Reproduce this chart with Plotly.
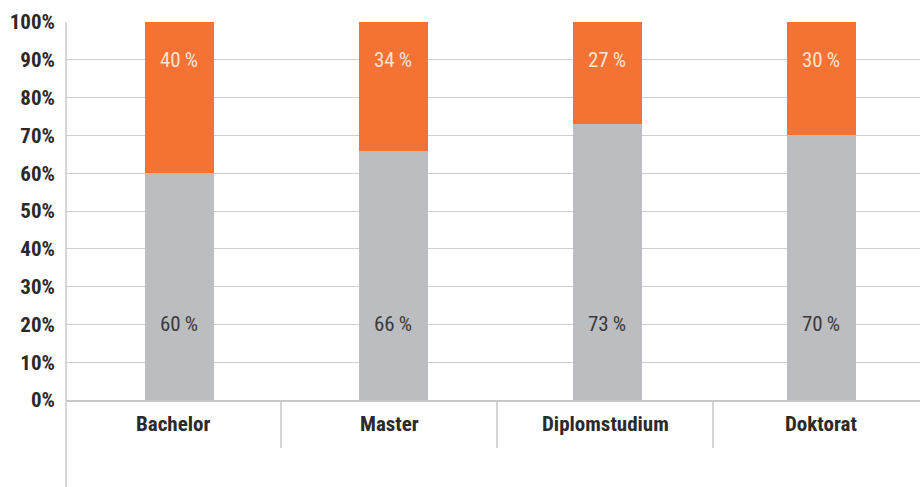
import plotly.graph_objects as go

categories = ["Bachelor", "Master", "Diplomstudium", "Doktorat"]
gray_vals = [60, 66, 73, 70]
orange_vals = [40, 34, 27, 30]
ytick_vals = [0, 10, 20, 30, 40, 50, 60, 70, 80, 90, 100]
ytick_text = [f"{v}%" for v in ytick_vals]

GRAY = "#BCBDC0"
ORANGE = "#F37234"
FONT = "Liberation Sans Narrow, Roboto Condensed, Arial Narrow, Liberation Sans, sans-serif"

PLOT_L, PLOT_W, PLOT_H = 66, 854, 378
# category band boundaries (pixels) below the axis
bounds_px = [65, 281, 497, 713, 929]

fig = go.Figure()
fig.add_bar(x=categories, y=gray_vals, marker_color=GRAY, marker_line_width=0, width=0.322, hoverinfo="skip")
fig.add_bar(x=categories, y=orange_vals, marker_color=ORANGE, marker_line_width=0, width=0.322, hoverinfo="skip")

annotations = []
for c, g, o in zip(categories, gray_vals, orange_vals):
    annotations.append(dict(x=c, y=20, text=f"{g}\u2009%", showarrow=False,
                            font=dict(family=FONT, size=21, color="#3a3a3a")))
    annotations.append(dict(x=c, y=90, text=f"{o}\u2009%", showarrow=False,
                            font=dict(family=FONT, size=21, color="#FCE3D4")))

# category labels centred in their bands
for i, c in enumerate(categories):
    cx = ((bounds_px[i] + bounds_px[i + 1]) / 2 - PLOT_L) / PLOT_W
    annotations.append(dict(xref="paper", yref="paper", x=cx, y=-24 / PLOT_H, text=f"<b>{c}</b>",
                            showarrow=False, xanchor="center", yanchor="middle",
                            font=dict(family=FONT, size=21, color="#2a2a2a")))

shapes = []
shapes.append(dict(type="line", xref="paper", yref="paper", x0=0, x1=0, y0=1, y1=-87 / PLOT_H,
                   line=dict(color="#C8C8C8", width=1.5)))
for px in bounds_px[1:-1]:
    xp = (px - PLOT_L) / PLOT_W
    shapes.append(dict(type="line", xref="paper", yref="paper", x0=xp, x1=xp, y0=0, y1=-48 / PLOT_H,
                       line=dict(color="#C8C8C8", width=1.5)))

fig.update_layout(
    barmode="stack",
    width=920, height=487,
    margin=dict(l=66, r=0, t=22, b=87),
    plot_bgcolor="white", paper_bgcolor="white",
    showlegend=False,
    annotations=annotations,
    shapes=shapes,
    font=dict(family=FONT, color="#2a2a2a"),
)
fig.update_xaxes(
    range=[-0.530, 3.4607],
    showgrid=False, showline=True, linecolor="#C8C8C8", linewidth=1.5,
    ticks="", showticklabels=False,
)
fig.update_yaxes(
    range=[0, 100], tickvals=ytick_vals, ticktext=ytick_text,
    showgrid=True, gridcolor="#CFCFCF", gridwidth=1,
    showline=False, zeroline=False, ticks="", ticklabelstandoff=10,
    tickfont=dict(family=FONT, size=21, color="#2a2a2a", weight="bold"),
)

fig.write_html("out.html")
